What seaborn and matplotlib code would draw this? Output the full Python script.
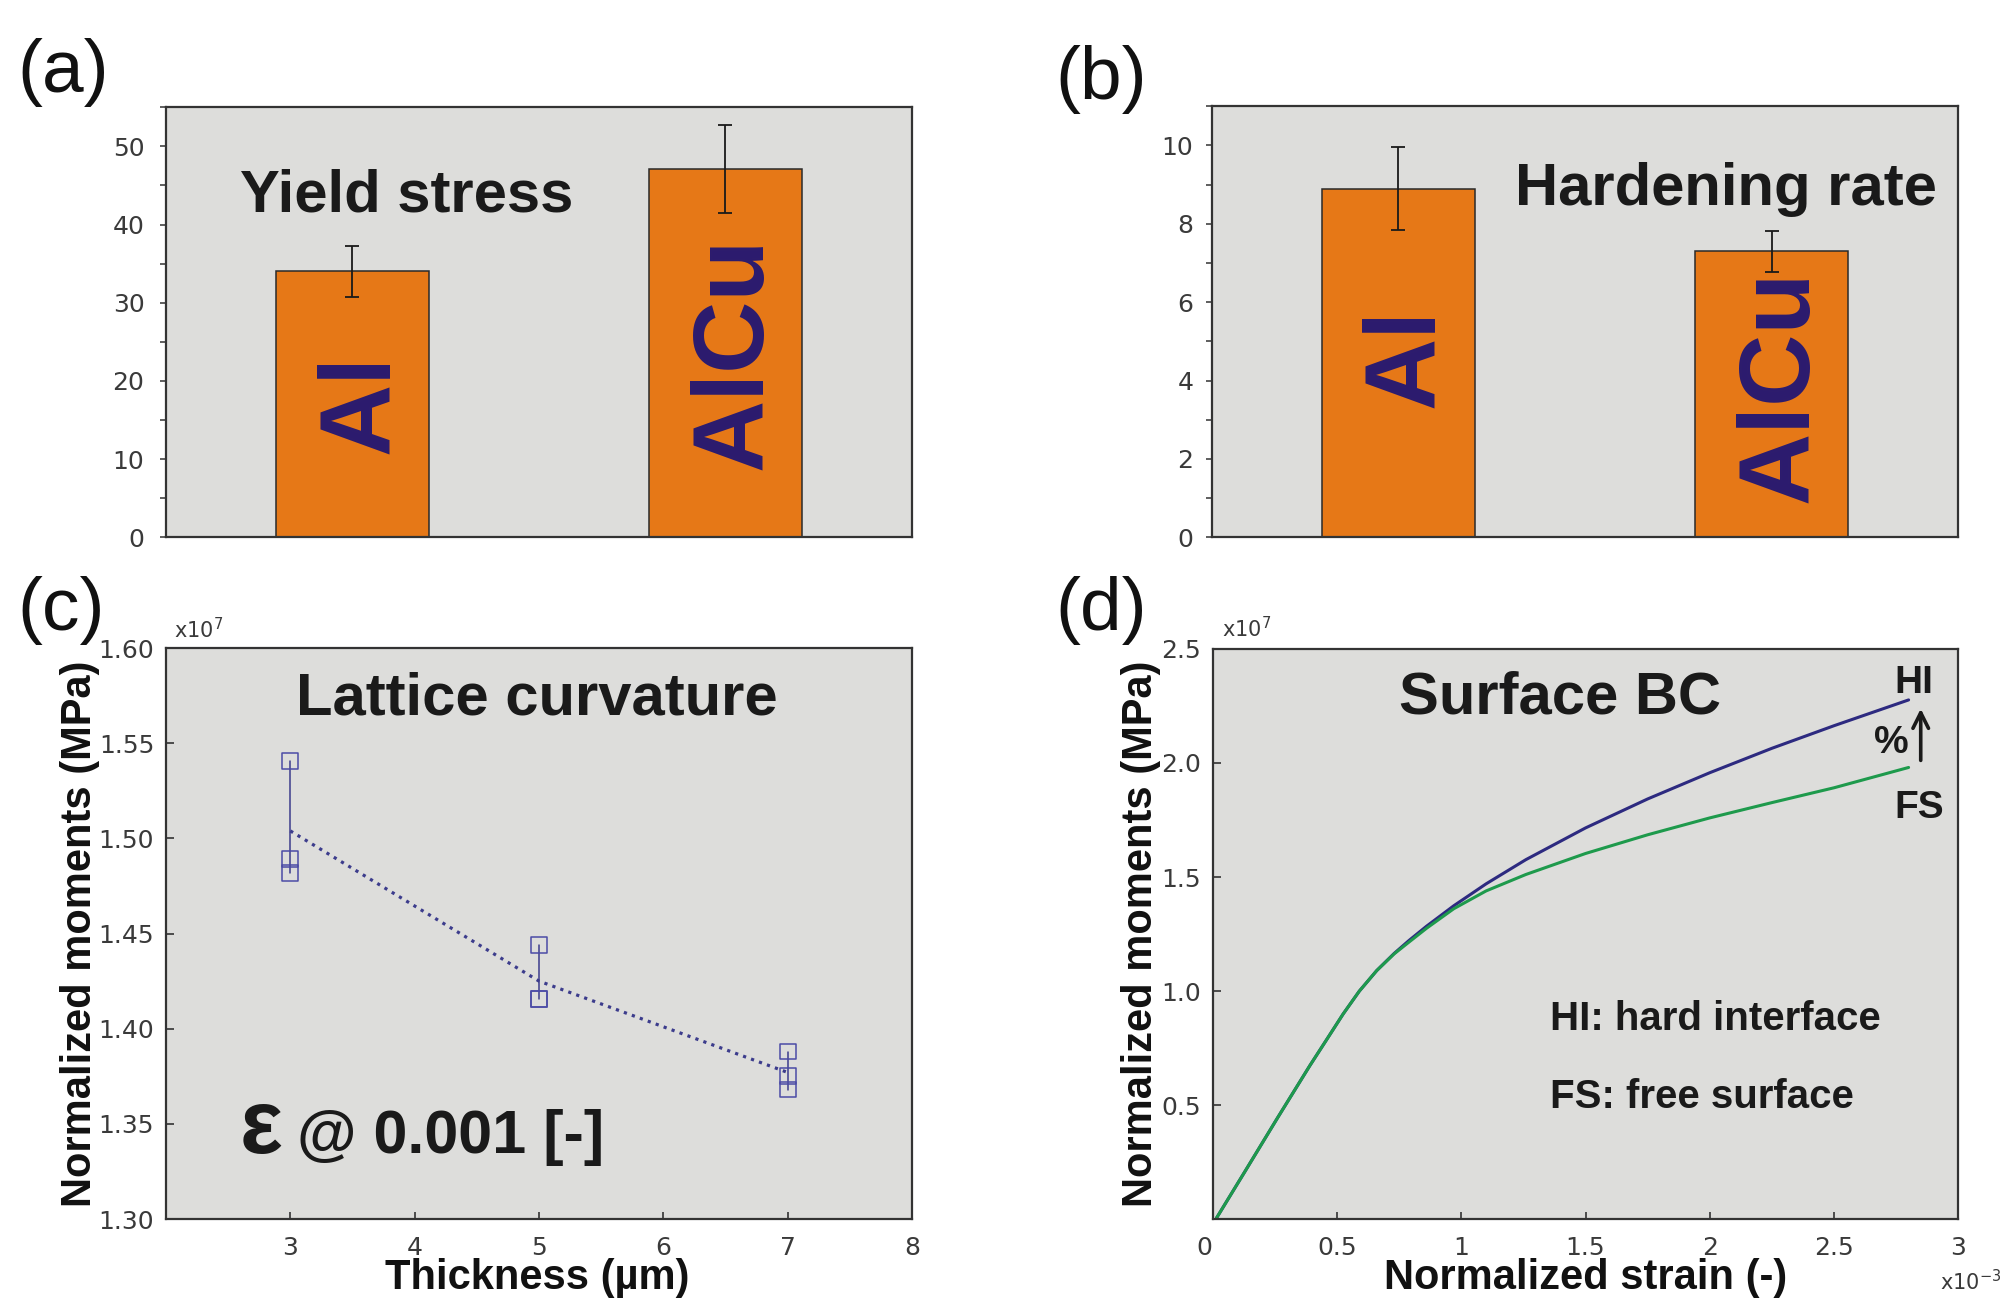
import matplotlib
matplotlib.use("Agg")
import matplotlib.pyplot as plt
import matplotlib.font_manager as fm
from matplotlib.ticker import FixedLocator
import seaborn as sns
import pandas as pd

# ---------------- data ----------------
materials = ["Al", "AlCu"]
yield_stress = [34.0, 47.1]
yield_err = [3.3, 5.6]
hardening_rate = [8.9, 7.3]
hardening_err = [1.05, 0.52]

thickness = [3, 3, 3, 5, 5, 5, 7, 7, 7]
moments_c = [1.5407, 1.489, 1.482, 1.444, 1.4155, 1.4155, 1.388, 1.375, 1.368]

strain = [0.015, 0.13, 0.26, 0.39, 0.46, 0.525, 0.59, 0.66, 0.73, 0.79,
          0.86, 0.97, 1.10, 1.26, 1.50, 1.75, 2.00, 2.25, 2.50, 2.80]
moment_hi = [0.005, 0.21, 0.443, 0.672, 0.79, 0.90, 1.00, 1.09, 1.165, 1.222,
             1.284, 1.374, 1.470, 1.576, 1.715, 1.842, 1.957, 2.064, 2.163, 2.276]
moment_fs = [0.005, 0.21, 0.443, 0.672, 0.79, 0.90, 1.00, 1.09, 1.163, 1.215,
             1.275, 1.361, 1.439, 1.511, 1.603, 1.685, 1.759, 1.826, 1.891, 1.980]

a_yticks = [0, 10, 20, 30, 40, 50]
a_yminor = [5, 15, 25, 35, 45, 55]
b_yticks = [0, 2, 4, 6, 8, 10]
b_yminor = [1, 3, 5, 7, 9, 11]
c_xticks = [3, 4, 5, 6, 7, 8]
c_yticks = [1.30, 1.35, 1.40, 1.45, 1.50, 1.55, 1.60]
c_yticklabels = ["1.30", "1.35", "1.40", "1.45", "1.50", "1.55", "1.60"]
d_xticks = [0, 0.5, 1, 1.5, 2, 2.5, 3]
d_xticklabels = ["0", "0.5", "1", "1.5", "2", "2.5", "3"]
d_yticks = [0.5, 1.0, 1.5, 2.0, 2.5]
d_yticklabels = ["0.5", "1.0", "1.5", "2.0", "2.5"]

# ---------------- style ----------------
sns.set_theme(style="ticks")
plt.rcParams["font.family"] = ["Liberation Sans", "DejaVu Sans"]
plt.rcParams["mathtext.fontset"] = "dejavusans"

ORANGE = "#E67817"
INDIGO = "#2B1B6F"
BG = "#DDDDDB"
SPINE = "#333333"
TICKC = "#3a3a3a"
HI_C = "#2D2A80"
FS_C = "#1E9A4C"
MARK_C = "#4C4CA6"
LINE_C = "#3C3C8C"

names = {f.name for f in fm.fontManager.ttflist}
narrow = "Liberation Sans Narrow" in names
bar_family = ["Liberation Sans Narrow", "Liberation Sans"] if narrow else ["Liberation Sans", "DejaVu Sans"]
bar_fs = 86 if narrow else 72

fig = plt.figure(figsize=(20.05, 12.98), dpi=100)
fig.patch.set_facecolor("white")

axA = fig.add_axes([0.08279, 0.58606, 0.37207, 0.33128])
axB = fig.add_axes([0.60424, 0.58606, 0.37247, 0.33205])
axC = fig.add_axes([0.08279, 0.06086, 0.37207, 0.43991])
axD = fig.add_axes([0.60484, 0.06063, 0.37187, 0.43952])

for ax in (axA, axB, axC, axD):
    ax.set_facecolor(BG)
    for s in ax.spines.values():
        s.set_visible(True)
        s.set_color(SPINE)
        s.set_linewidth(1.6)


def style_ticklabels(ax):
    for lbl in ax.get_xticklabels() + ax.get_yticklabels():
        lbl.set_family("DejaVu Sans")
        lbl.set_color(TICKC)
        lbl.set_fontsize(18)


def bar_panel(ax, vals, errs, ylim, major, minor, title, title_xy, label_ys, pad):
    sns.barplot(x=materials, y=vals, ax=ax, color=ORANGE, saturation=1,
                width=0.41, edgecolor="#2a2a2a", linewidth=1.1, errorbar=None,
                zorder=2)
    ax.errorbar(range(len(vals)), vals, yerr=errs, fmt="none", ecolor="#1a1a1a",
                elinewidth=1.3, capsize=5, capthick=1.3, zorder=4)
    ax.set_xlim(-0.5, 1.5)
    ax.set_ylim(*ylim)
    ax.set_xticks([])
    ax.set_xlabel("")
    ax.set_ylabel("")
    ax.set_yticks(major)
    ax.set_yticklabels([str(v) for v in major])
    ax.yaxis.set_minor_locator(FixedLocator(minor))
    ax.tick_params(axis="y", which="both", direction="out", length=4.5,
                   width=1.1, color=SPINE, pad=pad)
    style_ticklabels(ax)
    ax.text(title_xy[0], title_xy[1], title, transform=ax.transAxes,
            ha="center", va="baseline", fontsize=43, fontweight="bold",
            color="#1a1a1a")
    for i, (lab, yc) in enumerate(zip(materials, label_ys)):
        ax.annotate(lab, xy=(i, yc), xytext=(0.358 * bar_fs, 0),
                    textcoords="offset points", rotation=90,
                    rotation_mode="anchor", ha="center", va="baseline",
                    fontsize=bar_fs, fontweight="bold", color=INDIGO,
                    family=bar_family, zorder=3)


bar_panel(axA, yield_stress, yield_err, (0, 55), a_yticks, a_yminor,
          "Yield stress", (0.322, 0.757), (17.0, 23.6), 11)
bar_panel(axB, hardening_rate, hardening_err, (0, 11), b_yticks, b_yminor,
          "Hardening rate", (0.689, 0.771), (4.59, 3.85), 8.5)

# ---------------- panel (c) ----------------
df_c = pd.DataFrame({"thickness": thickness, "moment": moments_c})
sns.lineplot(data=df_c, x="thickness", y="moment", estimator="mean",
             errorbar=("pi", 100), err_style="bars", color=LINE_C,
             linestyle=":", linewidth=2.3, err_kws={"linewidth": 1.1},
             ax=axC)
sns.scatterplot(data=df_c, x="thickness", y="moment", marker="s", s=130,
                color=MARK_C, linewidth=1.1, ax=axC, zorder=3)
pts = axC.collections[-1]
pts.set_facecolor("none")
pts.set_edgecolor(MARK_C)
axC.set_xlim(2, 8)
axC.set_ylim(1.30, 1.60)
axC.set_xticks(c_xticks)
axC.set_xticklabels([str(v) for v in c_xticks])
axC.set_yticks(c_yticks)
axC.set_yticklabels(c_yticklabels)
axC.tick_params(axis="both", direction="in", length=5.4, width=1.2, color=SPINE)
axC.tick_params(axis="y", pad=8.5)
axC.tick_params(axis="x", pad=12)
style_ticklabels(axC)
axC.set_xlabel("Thickness (µm)", fontsize=30, fontweight="bold", color="#111111")
axC.set_ylabel("Normalized moments (MPa)", fontsize=30, fontweight="bold", color="#111111")
axC.xaxis.set_label_coords(0.497, -0.068)
axC.yaxis.set_label_coords(-0.0885, 0.5)
axC.text(0.497, 0.8827, "Lattice curvature", transform=axC.transAxes,
         ha="center", va="baseline", fontsize=43, fontweight="bold", color="#1a1a1a")
axC.text(0.099, 0.1156, "ε", transform=axC.transAxes, ha="left", va="baseline",
         fontsize=65, fontweight="bold", color="#1a1a1a")
axC.text(0.1756, 0.1156, "@ 0.001 [-]", transform=axC.transAxes, ha="left",
         va="baseline", fontsize=44, fontweight="bold", color="#1a1a1a")

# ---------------- panel (d) ----------------
sns.lineplot(x=strain, y=moment_hi, estimator=None, sort=False, color=HI_C,
             linewidth=2.2, ax=axD)
sns.lineplot(x=strain, y=moment_fs, estimator=None, sort=False, color=FS_C,
             linewidth=2.2, ax=axD)
axD.set_xlim(0, 3)
axD.set_ylim(0, 2.5)
axD.set_xticks(d_xticks)
axD.set_xticklabels(d_xticklabels)
axD.set_yticks(d_yticks)
axD.set_yticklabels(d_yticklabels)
axD.tick_params(axis="both", direction="in", length=5.4, width=1.2, color=SPINE)
axD.tick_params(axis="y", pad=8.5)
axD.tick_params(axis="x", pad=12)
style_ticklabels(axD)
axD.get_xticklabels()[0].set_ha("right")
axD.set_xlabel("Normalized strain (-)", fontsize=30, fontweight="bold", color="#111111")
axD.set_ylabel("Normalized moments (MPa)", fontsize=30, fontweight="bold", color="#111111")
axD.xaxis.set_label_coords(0.5007, -0.068)
axD.yaxis.set_label_coords(-0.0693, 0.5)
axD.text(0.466, 0.887, "Surface BC", transform=axD.transAxes, ha="center",
         va="baseline", fontsize=43, fontweight="bold", color="#1a1a1a")
axD.text(0.452, 0.3315, "HI: hard interface", transform=axD.transAxes, ha="left",
         va="baseline", fontsize=29, fontweight="bold", color="#1a1a1a")
axD.text(0.452, 0.1955, "FS: free surface", transform=axD.transAxes, ha="left",
         va="baseline", fontsize=29, fontweight="bold", color="#1a1a1a")
axD.text(0.9406, 0.9217, "HI", transform=axD.transAxes, ha="center",
         va="baseline", fontsize=28, fontweight="bold", color="#1a1a1a")
axD.text(0.947, 0.7028, "FS", transform=axD.transAxes, ha="center",
         va="baseline", fontsize=28, fontweight="bold", color="#1a1a1a")
axD.text(0.9097, 0.8166, "%", transform=axD.transAxes, ha="center",
         va="baseline", fontsize=28, fontweight="bold", color="#1a1a1a")
axD.annotate("", xy=(0.9496, 0.895), xytext=(0.9496, 0.8044),
             xycoords="axes fraction", textcoords="axes fraction",
             arrowprops=dict(arrowstyle="->", lw=2.6, color="#1a1a1a",
                             mutation_scale=28, shrinkA=0, shrinkB=0))

# ---------------- figure-level texts ----------------
for lab, x, y in [("(a)", 0.0085, 0.9707), ("(b)", 0.5262, 0.9653),
                  ("(c)", 0.0085, 0.5559), ("(d)", 0.5262, 0.5559)]:
    fig.text(x, y, lab, ha="left", va="top", fontsize=54, color="#111111")

fig.text(174 / 2005, 1 - 638 / 1298, r"x10$^{7}$", ha="left", va="baseline",
         fontsize=15, color=TICKC, family="DejaVu Sans")
fig.text(1222 / 2005, 1 - 637 / 1298, r"x10$^{7}$", ha="left", va="baseline",
         fontsize=15, color=TICKC, family="DejaVu Sans")
fig.text(2001 / 2005, 1 - 1290 / 1298, r"x10$^{-3}$", ha="right", va="baseline",
         fontsize=15, color=TICKC, family="DejaVu Sans")

fig.savefig("out.png", dpi=100, facecolor="white")
